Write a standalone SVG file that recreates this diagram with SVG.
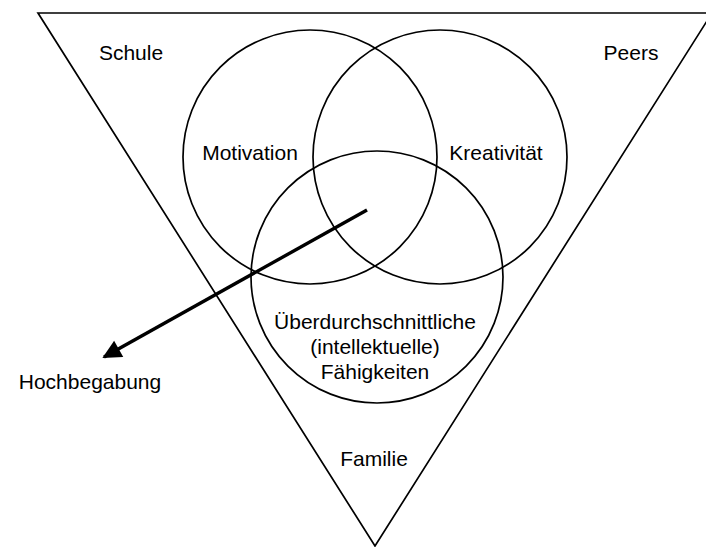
<svg xmlns="http://www.w3.org/2000/svg" width="706" height="547" viewBox="0 0 706 547">
<style>
.ln{fill:none;stroke:#000;stroke-width:1.7}
.t{font-family:"Liberation Sans",Arial,Helvetica,sans-serif;font-size:21px;fill:#000;text-anchor:middle}
</style>
<defs>
<marker id="ah" viewBox="0 0 10 10" refX="9" refY="5" markerWidth="7" markerHeight="5.5" markerUnits="strokeWidth" orient="auto">
<path d="M0,0 L10,5 L0,10 z" fill="#000"/>
</marker>
</defs>
<rect width="706" height="547" fill="#fff"/>
<g id="umwelt">
<polygon class="ln" points="38,13 712,13 375,546"/>
<text class="t" x="131" y="60">Schule</text>
<text class="t" x="631" y="60">Peers</text>
<text class="t" x="374" y="466">Familie</text>
</g>
<g id="motivation">
<circle class="ln" cx="310" cy="157" r="127"/>
<text class="t" x="250" y="160">Motivation</text>
</g>
<g id="kreativitaet">
<circle class="ln" cx="440" cy="157" r="127"/>
<text class="t" x="496" y="160">Kreativität</text>
</g>
<g id="faehigkeiten">
<circle class="ln" cx="377" cy="277" r="126"/>
<text class="t" x="375" y="329">Überdurchschnittliche</text>
<text class="t" x="375" y="354">(intellektuelle)</text>
<text class="t" x="375" y="379">Fähigkeiten</text>
</g>
<g id="hochbegabung">
<text class="t" x="90" y="389">Hochbegabung</text>
</g>
<g id="connectors">
<line x1="367" y1="210" x2="104" y2="357" stroke="#000" stroke-width="3.4" marker-end="url(#ah)"/>
</g>
</svg>
